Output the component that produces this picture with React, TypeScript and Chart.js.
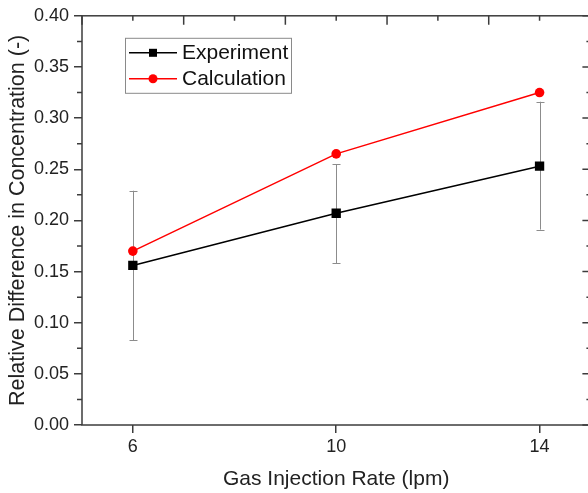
import React, { useEffect, useRef } from "react";
import { Chart, registerables } from "chart.js";

Chart.register(...registerables);

// ---- data ----
const rates = [6, 10, 14];
const experiment = [0.156, 0.207, 0.253];
const experimentLow = [0.083, 0.158, 0.191];
const experimentHigh = [0.229, 0.255, 0.316];
const calculation = [0.17, 0.265, 0.325];
const xTickValues = [6, 10, 14];
const xRange = [5, 15];
const yRange = [0, 0.4];
const seriesLabels = ["Experiment", "Calculation"];

const FONT = "'Liberation Sans', Arial, sans-serif";
const AXIS = "#3c3c3c";
const TEXT = "#222222";

const decorPlugin = {
  id: "decor",
  beforeDatasetsDraw(chart: any) {
    const { ctx } = chart;
    const xs = chart.scales.x;
    const ys = chart.scales.y;
    ctx.save();
    ctx.strokeStyle = "#8c8c8c";
    ctx.lineWidth = 1;
    rates.forEach((r, i) => {
      const px = Math.round(xs.getPixelForValue(r)) + 0.5;
      const lo = ys.getPixelForValue(experimentLow[i]);
      const hi = ys.getPixelForValue(experimentHigh[i]);
      ctx.beginPath();
      ctx.moveTo(px, lo);
      ctx.lineTo(px, hi);
      ctx.moveTo(px - 4, Math.round(lo) + 0.5);
      ctx.lineTo(px + 4, Math.round(lo) + 0.5);
      ctx.moveTo(px - 4, Math.round(hi) + 0.5);
      ctx.lineTo(px + 4, Math.round(hi) + 0.5);
      ctx.stroke();
    });
    ctx.restore();
  },
  afterDraw(chart: any) {
    const { ctx, chartArea } = chart;
    const { left, right, top, bottom } = chartArea;
    const xs = chart.scales.x;
    const ys = chart.scales.y;
    ctx.save();
    ctx.strokeStyle = AXIS;
    ctx.lineWidth = 1.5;
    // frame
    ctx.strokeRect(left, top, right - left, bottom - top);
    ctx.beginPath();
    // left minor (outward) + right ticks (inward)
    for (let k = 0; k <= 16; k++) {
      const v = yRange[0] + (k * (yRange[1] - yRange[0])) / 16;
      const py = ys.getPixelForValue(v);
      const major = k % 2 === 0;
      if (!major) {
        ctx.moveTo(left, py);
        ctx.lineTo(left - 5, py);
      }
      const len = major ? 8 : 4;
      ctx.moveTo(right, py);
      ctx.lineTo(right - len, py);
    }
    // top ticks (inward)
    for (let v = xRange[0]; v <= xRange[1]; v++) {
      const px = xs.getPixelForValue(v);
      const major = v % 2 === 1;
      const len = major ? 9 : 5;
      ctx.moveTo(px, top);
      ctx.lineTo(px, top + len);
    }
    ctx.stroke();

    // legend
    const bx = left + 43;
    const by = top + 22;
    const bw = 166;
    const bh = 55;
    ctx.strokeStyle = "#8a8a8a";
    ctx.lineWidth = 1;
    ctx.strokeRect(bx + 0.5, by + 0.5, bw, bh);
    const ds = chart.data.datasets;
    ds.forEach((d: any, i: number) => {
      const cy = by + 15 + i * 26;
      ctx.strokeStyle = d.borderColor;
      ctx.lineWidth = 1.5;
      ctx.beginPath();
      ctx.moveTo(bx + 4, cy);
      ctx.lineTo(bx + 52, cy);
      ctx.stroke();
      ctx.fillStyle = d.pointBackgroundColor;
      if (d.pointStyle === "rect") {
        ctx.fillRect(bx + 28 - 4, cy - 4, 8, 8);
      } else {
        ctx.beginPath();
        ctx.arc(bx + 28, cy, 4.5, 0, Math.PI * 2);
        ctx.fill();
      }
      ctx.fillStyle = "#111";
      ctx.font = `21px ${FONT}`;
      ctx.textBaseline = "middle";
      ctx.textAlign = "left";
      ctx.fillText(d.label, bx + 57, cy);
    });
    ctx.restore();
  },
};

export default function App() {
  const ref = useRef<HTMLCanvasElement | null>(null);
  useEffect(() => {
    document.body.style.margin = "0";
    if (!ref.current) return;
    const chart = new Chart(ref.current, {
      type: "line",
      data: {
        datasets: [
          {
            label: seriesLabels[0],
            data: rates.map((r, i) => ({ x: r, y: experiment[i] })),
            borderColor: "#000000",
            backgroundColor: "#000000",
            pointBackgroundColor: "#000000",
            pointBorderColor: "#000000",
            pointStyle: "rect",
            pointRadius: 6.6,
            pointBorderWidth: 0,
            borderWidth: 1.5,
          },
          {
            label: seriesLabels[1],
            data: rates.map((r, i) => ({ x: r, y: calculation[i] })),
            borderColor: "#ff0000",
            backgroundColor: "#ff0000",
            pointBackgroundColor: "#ff0000",
            pointBorderColor: "#ff0000",
            pointStyle: "circle",
            pointRadius: 4.8,
            pointBorderWidth: 0,
            borderWidth: 1.5,
          },
        ],
      },
      options: {
        responsive: false,
        animation: false,
        layout: { padding: { top: 14, right: 0, left: 0, bottom: 0 } },
        plugins: {
          legend: { display: false },
          tooltip: { enabled: false },
        },
        scales: {
          x: {
            type: "linear",
            min: xRange[0],
            max: xRange[1],
            afterBuildTicks: (s: any) => {
              s.ticks = xTickValues.map((v) => ({ value: v }));
            },
            afterFit: (s: any) => {
              s.height = 68;
            },
            grid: {
              display: true,
              drawOnChartArea: false,
              drawTicks: true,
              tickLength: 8,
              color: AXIS,
              lineWidth: 1.5,
            },
            border: { display: false },
            ticks: {
              color: TEXT,
              font: { family: FONT, size: 18 },
              padding: 3,
              maxRotation: 0,
            },
            title: {
              display: true,
              text: "Gas Injection Rate (lpm)",
              color: TEXT,
              font: { family: FONT, size: 21 },
              padding: { top: 0, bottom: 1 },
            },
          },
          y: {
            type: "linear",
            min: yRange[0],
            max: yRange[1],
            afterFit: (s: any) => {
              s.width = 82;
            },
            grid: {
              display: true,
              drawOnChartArea: false,
              drawTicks: true,
              tickLength: 8,
              color: AXIS,
              lineWidth: 1.5,
            },
            border: { display: false },
            ticks: {
              stepSize: 0.05,
              color: TEXT,
              font: { family: FONT, size: 18 },
              padding: 5,
              callback: (v: any) => Number(v).toFixed(2),
            },
            title: {
              display: true,
              text: "Relative Difference in Concentration (-)",
              color: TEXT,
              font: { family: FONT, size: 21.5 },
              padding: { top: 5, bottom: 0 },
            },
          },
        },
      },
      plugins: [decorPlugin],
    } as any);
    return () => chart.destroy();
  }, []);
  return (
    <div style={{ width: 588, height: 493, overflow: "hidden", background: "#fff" }}>
      <canvas ref={ref} width={597} height={493} style={{ display: "block", width: 597, height: 493 }} />
    </div>
  );
}
